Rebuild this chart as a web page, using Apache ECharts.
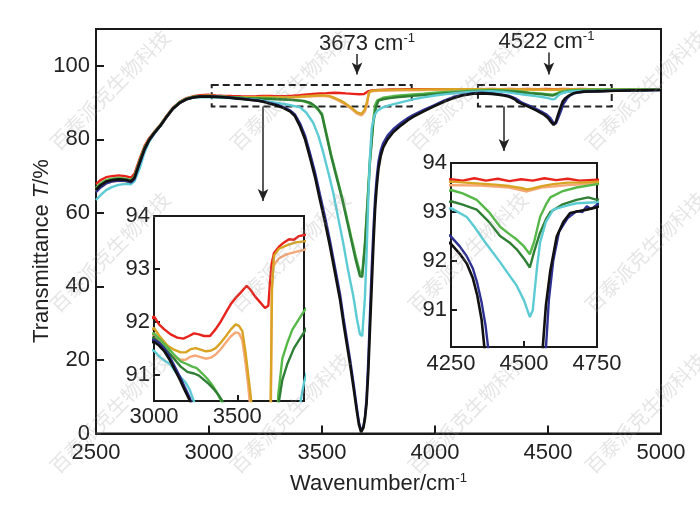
<!DOCTYPE html>
<html><head><meta charset="utf-8">
<script src="https://cdn.jsdelivr.net/npm/echarts@6/dist/echarts.min.js"></script>
<style>html,body{margin:0;padding:0;background:#fff}#c{width:700px;height:505px}</style>
</head><body><div id="c"></div>
<script>
// ---- data: [wavenumber (cm-1), transmittance (%)] ----
const redT = [[2500,67.8],[2520,68.9],[2545,69.7],[2570,70.0],[2600,70.2],[2630,70.0],[2655,69.6],[2670,70.6],[2695,75.0],[2715,78.2],[2735,80.3],[2760,82.2],[2785,84.0],[2810,86.2],[2840,88.6],[2870,90.2],[2900,91.2],[2930,91.7],[2960,92.0],[3000,92.1],[3030,91.95],[3060,91.86],[3100,91.76],[3140,91.7],[3176,91.68],[3210,91.73],[3240,91.78],[3270,91.76],[3300,91.73],[3336,91.73],[3370,91.86],[3400,92.0],[3436,92.2],[3460,92.33],[3490,92.45],[3520,92.55],[3556,92.68],[3580,92.6],[3606,92.48],[3636,92.37],[3666,92.26],[3686,92.3],[3696,92.75],[3706,93.1],[3720,93.3],[3750,93.42],[3780,93.5],[3810,93.56],[3840,93.55],[3870,93.62],[3900,93.64],[3950,93.65],[4000,93.66],[4100,93.65],[4200,93.66],[4250,93.67],[4290,93.64],[4330,93.69],[4370,93.64],[4410,93.68],[4450,93.63],[4490,93.67],[4530,93.64],[4570,93.69],[4610,93.65],[4650,93.68],[4690,93.64],[4750,93.66],[4850,93.62],[5000,93.6]];
const goldT = [[2500,66.5],[2520,67.7],[2545,68.6],[2570,69.0],[2600,69.2],[2630,69.0],[2655,68.6],[2670,69.6],[2695,74.2],[2715,77.6],[2735,79.9],[2760,82.0],[2785,83.8],[2810,86.0],[2840,88.4],[2870,90.0],[2900,91.0],[2930,91.5],[2960,91.8],[3000,91.88],[3040,91.7],[3080,91.55],[3120,91.47],[3160,91.42],[3190,91.42],[3220,91.48],[3250,91.5],[3280,91.47],[3310,91.44],[3340,91.45],[3370,91.5],[3400,91.6],[3430,91.72],[3460,91.85],[3490,91.95],[3510,91.92],[3530,91.82],[3550,91.4],[3565,91.0],[3580,90.6],[3600,89.9],[3630,88.6],[3655,87.3],[3675,86.9],[3690,88.2],[3700,90.5],[3708,92.6],[3720,93.25],[3750,93.38],[3800,93.45],[3850,93.5],[3900,93.52],[4000,93.58],[4100,93.6],[4250,93.62],[4300,93.6],[4350,93.58],[4400,93.56],[4450,93.53],[4490,93.49],[4510,93.46],[4530,93.48],[4560,93.53],[4600,93.57],[4650,93.6],[4700,93.6],[4750,93.62],[5000,93.55]];
const salmonT = [[2500,65.8],[2520,67.0],[2545,68.0],[2570,68.5],[2600,68.7],[2630,68.6],[2655,68.2],[2670,69.2],[2695,73.8],[2715,77.3],[2735,79.7],[2760,81.8],[2785,83.6],[2810,85.8],[2840,88.2],[2870,89.8],[2900,90.85],[2930,91.35],[2960,91.65],[3000,91.78],[3040,91.58],[3080,91.42],[3120,91.33],[3160,91.28],[3190,91.28],[3220,91.34],[3250,91.36],[3280,91.33],[3310,91.3],[3340,91.32],[3370,91.38],[3400,91.48],[3430,91.6],[3460,91.72],[3490,91.8],[3510,91.78],[3530,91.65],[3550,91.2],[3565,90.8],[3580,90.3],[3600,89.6],[3630,88.3],[3655,87.0],[3675,86.5],[3690,87.6],[3700,89.5],[3706,92.6],[3715,93.05],[3750,93.2],[3800,93.28],[3850,93.32],[3900,93.36],[4000,93.45],[4100,93.5],[4250,93.55],[4350,93.54],[4450,93.5],[4510,93.42],[4560,93.5],[4650,93.55],[4750,93.58],[5000,93.5]];
const lightGreenT = [[2500,66.8],[2520,68.0],[2545,68.9],[2570,69.3],[2600,69.5],[2630,69.3],[2655,68.9],[2670,69.9],[2695,74.5],[2715,77.8],[2735,80.0],[2760,82.1],[2785,83.9],[2810,86.1],[2840,88.5],[2870,90.1],[2900,91.1],[2930,91.55],[2960,91.75],[3000,91.78],[3040,91.65],[3080,91.52],[3120,91.38],[3160,91.25],[3196,91.2],[3230,91.15],[3256,91.12],[3290,91.02],[3320,90.92],[3350,90.8],[3380,90.65],[3410,90.45],[3440,89.9],[3470,88.8],[3500,87.0],[3520,81.5],[3540,76.0],[3565,70.0],[3590,64.0],[3610,58.7],[3630,53.2],[3650,48.0],[3668,43.8],[3678,43.5],[3690,52.0],[3700,62.0],[3712,74.5],[3727,85.5],[3736,89.5],[3745,90.6],[3770,91.3],[3800,91.6],[3830,91.85],[3860,92.0],[3900,92.2],[3950,92.4],[4000,92.65],[4050,92.85],[4100,93.05],[4150,93.2],[4200,93.35],[4250,93.45],[4290,93.38],[4338,93.25],[4380,93.0],[4418,92.7],[4450,92.55],[4475,92.44],[4500,92.3],[4520,92.14],[4535,92.4],[4555,92.9],[4575,93.15],[4590,93.3],[4630,93.42],[4680,93.5],[4750,93.57],[4850,93.55],[5000,93.5]];
const darkGreenT = [[2500,66.3],[2520,67.5],[2545,68.5],[2570,68.9],[2600,69.1],[2630,68.9],[2655,68.5],[2670,69.5],[2695,74.1],[2715,77.5],[2735,79.8],[2760,81.9],[2785,83.7],[2810,85.9],[2840,88.3],[2870,89.9],[2900,90.95],[2930,91.45],[2960,91.68],[3000,91.7],[3040,91.58],[3080,91.45],[3120,91.3],[3160,91.15],[3200,91.05],[3240,91.02],[3270,90.98],[3300,90.9],[3330,90.82],[3360,90.72],[3390,90.6],[3420,90.45],[3450,89.9],[3480,88.5],[3500,86.5],[3520,81.0],[3540,75.5],[3565,69.5],[3590,63.5],[3610,58.0],[3630,52.5],[3650,47.0],[3668,42.8],[3678,42.6],[3690,51.0],[3700,61.0],[3712,73.5],[3727,84.5],[3740,89.0],[3750,90.5],[3770,90.9],[3800,91.2],[3840,91.5],[3870,91.65],[3900,91.8],[3950,92.05],[4000,92.3],[4050,92.55],[4100,92.75],[4150,92.95],[4200,93.1],[4250,93.22],[4290,93.15],[4338,93.05],[4380,92.8],[4418,92.51],[4450,92.38],[4475,92.24],[4500,92.05],[4520,91.87],[4535,92.2],[4555,92.58],[4575,92.85],[4590,93.0],[4630,93.15],[4680,93.25],[4720,93.3],[4750,93.25],[4850,93.4],[5000,93.45]];
const cyanT = [[2500,63.5],[2520,64.8],[2545,66.2],[2570,67.0],[2600,67.6],[2630,67.9],[2655,67.8],[2670,68.6],[2695,72.4],[2715,76.5],[2735,79.3],[2760,81.7],[2785,83.6],[2810,85.9],[2840,88.3],[2870,89.9],[2900,90.9],[2930,91.35],[2960,91.5],[3000,91.45],[3030,91.35],[3060,91.27],[3096,91.2],[3130,91.05],[3160,90.95],[3190,90.85],[3216,90.7],[3250,90.4],[3300,89.9],[3350,89.4],[3403,88.7],[3430,87.3],[3461,84.5],[3485,80.8],[3506,76.3],[3530,70.5],[3550,65.4],[3572,58.5],[3594,51.8],[3615,44.5],[3639,37.2],[3655,31.0],[3668,27.0],[3678,26.5],[3690,37.0],[3698,50.0],[3705,64.0],[3712,75.0],[3720,83.0],[3732,86.5],[3745,87.8],[3770,88.7],[3800,89.3],[3840,89.9],[3880,90.5],[3900,90.85],[3950,91.4],[4000,91.9],[4050,92.3],[4100,92.6],[4150,92.85],[4200,93.0],[4250,93.08],[4304,92.9],[4330,92.7],[4360,92.44],[4390,92.2],[4418,91.98],[4445,91.75],[4475,91.5],[4500,91.2],[4520,90.86],[4530,91.0],[4545,91.9],[4555,92.38],[4575,92.8],[4600,93.05],[4640,93.12],[4680,93.18],[4750,93.2],[4850,93.35],[5000,93.45]];
const navyT = [[2500,65.6],[2520,66.9],[2545,68.0],[2570,68.5],[2600,68.8],[2630,68.7],[2655,68.3],[2670,69.2],[2695,73.7],[2715,77.2],[2735,79.7],[2760,81.8],[2785,83.7],[2810,85.9],[2840,88.3],[2870,89.9],[2900,90.9],[2930,91.4],[2960,91.62],[3000,91.66],[3030,91.6],[3060,91.5],[3090,91.36],[3120,91.18],[3156,90.96],[3185,90.76],[3216,90.55],[3240,90.3],[3270,89.85],[3300,89.4],[3330,88.75],[3358,87.9],[3380,86.8],[3403,84.3],[3425,81.0],[3447,76.2],[3470,70.8],[3491,65.0],[3513,59.0],[3535,52.5],[3558,45.0],[3580,37.8],[3595,31.5],[3609,26.0],[3625,19.8],[3639,13.8],[3653,7.5],[3663,3.2],[3673,0.8],[3683,1.8],[3690,4.5],[3697,9.5],[3705,20.0],[3712,32.0],[3720,45.0],[3728,56.0],[3735,64.0],[3742,69.5],[3750,74.0],[3760,77.0],[3771,79.0],[3790,81.0],[3816,82.8],[3850,84.5],[3880,85.8],[3903,86.6],[3950,88.0],[3993,89.2],[4040,90.5],[4081,91.5],[4120,92.1],[4169,92.55],[4210,92.65],[4250,92.5],[4280,92.3],[4304,92.1],[4325,91.85],[4340,91.55],[4355,91.15],[4368,90.7],[4380,90.1],[4400,89.6],[4430,88.8],[4460,87.9],[4490,86.9],[4510,85.8],[4525,84.4],[4535,84.3],[4545,85.8],[4558,87.8],[4568,89.6],[4578,90.5],[4585,91.2],[4600,92.0],[4620,92.6],[4650,92.88],[4680,93.02],[4700,93.0],[4715,93.12],[4730,93.06],[4750,93.15],[4800,93.25],[4900,93.35],[5000,93.4]];
const blackT = [[2500,66.3],[2520,67.5],[2545,68.5],[2570,68.9],[2600,69.1],[2630,69.0],[2655,68.6],[2670,69.5],[2695,74.0],[2715,77.4],[2735,79.8],[2760,81.9],[2785,83.7],[2810,85.9],[2840,88.3],[2870,89.9],[2900,90.9],[2930,91.4],[2960,91.6],[3000,91.62],[3030,91.55],[3060,91.45],[3090,91.3],[3120,91.12],[3156,90.9],[3185,90.7],[3216,90.5],[3240,90.2],[3270,89.7],[3300,89.2],[3330,88.5],[3358,87.6],[3380,86.3],[3403,83.5],[3425,80.0],[3447,75.0],[3470,69.5],[3491,63.5],[3513,57.5],[3535,51.0],[3558,43.5],[3580,36.3],[3595,30.0],[3609,24.6],[3625,18.5],[3639,12.7],[3653,6.5],[3663,2.5],[3673,0.4],[3683,1.5],[3690,4.0],[3697,8.0],[3705,17.0],[3712,28.0],[3720,40.0],[3728,52.0],[3735,61.0],[3742,67.0],[3750,72.0],[3760,75.5],[3771,77.8],[3790,80.0],[3816,82.0],[3850,83.8],[3880,85.2],[3903,86.1],[3950,87.6],[3993,88.9],[4040,90.2],[4081,91.2],[4120,91.9],[4169,92.4],[4210,92.5],[4250,92.35],[4280,92.15],[4304,91.95],[4325,91.65],[4340,91.3],[4355,90.8],[4365,90.2],[4390,89.5],[4420,88.7],[4450,87.8],[4480,86.8],[4500,85.8],[4515,84.6],[4525,83.9],[4535,84.8],[4545,86.8],[4555,88.6],[4565,90.3],[4575,91.1],[4590,91.8],[4612,92.5],[4635,92.8],[4658,92.98],[4690,93.02],[4715,93.05],[4750,93.1],[4800,93.2],[4900,93.3],[5000,93.4]];

// tick labels
const mainYTicks = [0, 20, 40, 60, 80, 100];
const inset1XTicks = [3000, 3500];
const inset1YTicks = [91, 92, 93, 94];
const inset2XTicks = [4250, 4500, 4750];
const inset2YTicks = [91, 92, 93, 94];
// annotation texts and positions (data coordinates)
const peakLabels = ['3673 cm', '4522 cm'];
const peakLabelAt = [[3699, 106.0], [4493, 106.4]];
const peakArrows = [[3655, 103.2, 97.6], [4504, 103.6, 97.6]];
const zoomBoxes = [[3012, 3897, 94.8, 88.9], [4190, 4782, 94.8, 88.9]];
const boxArrows = [[3239, 88.9, 63.2], [4305, 88.9, 76.8]];
const watermark = '百泰派克生物科技';

const FONT = '"Liberation Sans", Arial, Helvetica, sans-serif';
const INK = '#1a1a1a';
const curves = [
  {name: 'red', data: redT, color: '#e8231c'},
  {name: 'salmon', data: salmonT, color: '#f6a877'},
  {name: 'gold', data: goldT, color: '#d9a323'},
  {name: 'lightGreen', data: lightGreenT, color: '#56b848'},
  {name: 'darkGreen', data: darkGreenT, color: '#2f7f34'},
  {name: 'cyan', data: cyanT, color: '#5ccbd3'},
  {name: 'navy', data: navyT, color: '#2e3192'},
  {name: 'black', data: blackT, color: '#111111'}
];
const plainNum = function (v) { return String(v); };

function xAx(gi, min, max, interval, margin, tickLen, custom) {
  const a = {
    gridIndex: gi, type: 'value', min: min, max: max, interval: interval,
    axisLine: {onZero: false, lineStyle: {color: INK, width: 2}},
    axisTick: {inside: true, length: tickLen, lineStyle: {color: INK, width: 2}},
    axisLabel: {margin: margin, fontSize: 22, color: '#222', fontFamily: FONT, formatter: plainNum},
    splitLine: {show: false}
  };
  if (custom) { a.axisTick.customValues = custom; a.axisLabel.customValues = custom; }
  return a;
}
function yAx(gi, min, max, margin, tickLen, custom) {
  return {
    gridIndex: gi, type: 'value', min: min, max: max,
    axisLine: {onZero: false, lineStyle: {color: INK, width: 2}},
    axisTick: {inside: true, length: tickLen, lineStyle: {color: INK, width: 2}, customValues: custom},
    axisLabel: {margin: margin, fontSize: 22, color: '#222', fontFamily: FONT, customValues: custom, formatter: plainNum},
    splitLine: {show: false}
  };
}

const xAxes = [
  xAx(0, 2500, 5000, 500, 8, 8, null),
  xAx(1, 3000, 3900, 500, 5, 6, inset1XTicks),
  xAx(2, 4250, 4750, 250, 6, 6, inset2XTicks)
];
xAxes[0].name = '{a|Wavenumber/cm}{s|-1}';
xAxes[0].nameLocation = 'middle';
xAxes[0].nameGap = 38;
xAxes[0].nameTextStyle = {rich: {
  a: {fontSize: 22, fontFamily: FONT, color: '#222', lineHeight: 24},
  s: {fontSize: 13, fontFamily: FONT, color: '#222', verticalAlign: 'top', lineHeight: 24}
}};
const yAxes = [
  yAx(0, 0, 110, 6, 8, mainYTicks),
  yAx(1, 90.5, 94, 4, 6, inset1YTicks),
  yAx(2, 90.25, 94, 4, 6, inset2YTicks)
];

const series = [];
[0, 1, 2].forEach(function (gi) {
  curves.forEach(function (c) {
    series.push({
      type: 'line', xAxisIndex: gi, yAxisIndex: gi, data: c.data,
      showSymbol: false, symbol: 'none', clip: true, silent: true,
      lineStyle: {color: c.color, width: c.name === 'black' ? 2.6 : 2.4},
      z: 3
    });
  });
});

const richSup = {
  a: {fontSize: 22, fontFamily: FONT, color: '#222', lineHeight: 24},
  s: {fontSize: 13, fontFamily: FONT, color: '#222', verticalAlign: 'top', lineHeight: 24}
};
// annotations attached to the main red curve
series[0].markArea = {
  silent: true,
  itemStyle: {color: 'rgba(0,0,0,0)', borderColor: '#222', borderWidth: 2, borderType: [7, 4]},
  data: zoomBoxes.map(function (b) { return [{xAxis: b[0], yAxis: b[2]}, {xAxis: b[1], yAxis: b[3]}]; })
};
series[0].markLine = {
  silent: true, symbol: ['none', 'arrow'], symbolSize: [8, 12],
  lineStyle: {color: '#222', width: 1.5, type: 'solid'},
  label: {show: false},
  data: boxArrows.map(function (a) { return [{coord: [a[0], a[1]]}, {coord: [a[0], a[2]]}]; })
    .concat(peakArrows.map(function (a) { return [{coord: [a[0], a[1]]}, {coord: [a[0], a[2]]}]; }))
};
series[0].markPoint = {
  silent: true, symbol: 'circle', symbolSize: 0,
  label: {show: true, position: 'inside', rich: richSup},
  data: peakLabels.map(function (t, i) {
    return {coord: peakLabelAt[i], label: {formatter: '{a|' + t + '}{s|-1}'}};
  })
};

const graphics = [];
const wmX = [110, 290, 468, 645], wmY = [90, 252, 413];
wmY.forEach(function (y) {
  wmX.forEach(function (x) {
    graphics.push({type: 'text', x: x, y: y, rotation: Math.PI / 4, silent: true, z: 100,
      style: {text: watermark, fontSize: 20, fontFamily: '"Noto Sans CJK SC"', fill: 'rgba(150,150,150,0.25)', align: 'center', verticalAlign: 'middle'}});
  });
});
graphics.push({type: 'text', x: 42, y: 251, rotation: Math.PI / 2, silent: true, z: 10,
  style: {text: '{a|Transmittance }{i|T}{a|/%}', align: 'center', verticalAlign: 'middle',
    rich: {a: {fontSize: 22, fontFamily: FONT, fill: '#222'}, i: {fontSize: 22, fontFamily: FONT, fontStyle: 'italic', fill: '#222'}}}});

const chart = echarts.init(document.getElementById('c'), null, {renderer: 'canvas'});
chart.setOption({
  animation: false,
  backgroundColor: '#fff',
  grid: [
    {left: 96, top: 29, width: 565, height: 404.5, show: true, borderColor: INK, borderWidth: 2, backgroundColor: 'rgba(0,0,0,0)'},
    {left: 154, top: 216, width: 150, height: 185, show: true, borderColor: INK, borderWidth: 2, backgroundColor: 'rgba(0,0,0,0)'},
    {left: 451, top: 163, width: 146, height: 184, show: true, borderColor: INK, borderWidth: 2, backgroundColor: 'rgba(0,0,0,0)'}
  ],
  xAxis: xAxes,
  yAxis: yAxes,
  series: series,
  graphic: graphics
});
</script>
</body></html>
